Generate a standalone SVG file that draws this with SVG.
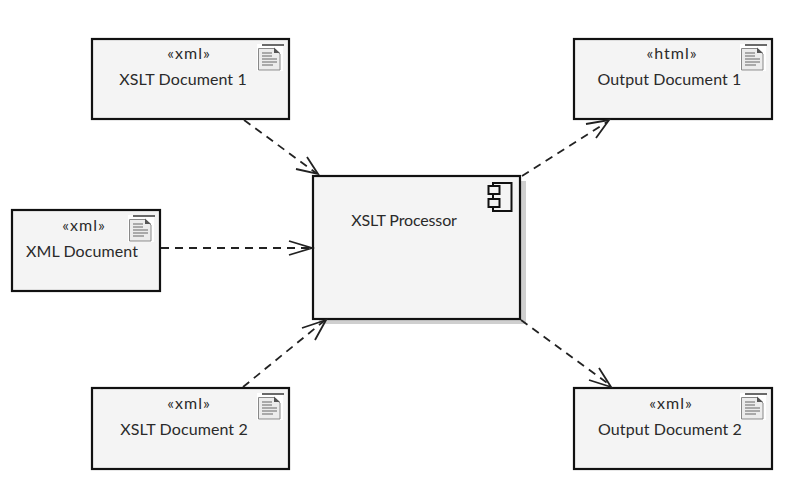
<svg xmlns="http://www.w3.org/2000/svg" width="800" height="481" viewBox="0 0 800 481">
<style>
text{font-family:Lato,"Liberation Sans",sans-serif;font-size:16px;fill:#2a2a2a;text-anchor:middle;letter-spacing:.1px}
text.st{letter-spacing:1px}
text.pr{letter-spacing:-.15px}
.box{fill:#f4f4f4;stroke:#111;stroke-width:2.200}
.dash{fill:none;stroke:#222;stroke-width:1.800;stroke-dasharray:8 6}
.head{fill:none;stroke:#222;stroke-width:1.800}
.ic{fill:#f4f4f4;stroke:#111;stroke-width:2}
.ln{fill:none;stroke:#666;stroke-width:1}
.pg{fill:#ececec;stroke:#888;stroke-width:1}
.top{stroke:#444;stroke-width:1.600}
</style>
<defs>
<g id="docicon">
<rect x="-1" y="0" width="26" height="27" fill="#fff"/>
<path class="pg" d="M.5 4.500H16L22 10V26H.5Z"/>
<path class="ln" d="M4 9H14M4 12H14M4 15H19M4 18H19M4 21H15"/>
<path d="M16 3.500V9H22Z" fill="#555"/>
<path class="top" d="M4 1H26"/>
</g>
</defs>
<g id="xslt-doc-1">
<rect class="box" x="92" y="39" width="197" height="80"/>
<use href="#docicon" x="258" y="44"/>
<text class="st" x="189" y="59">«xml»</text><text x="183" y="85">XSLT Document 1</text>
</g>
<g id="output-doc-1">
<rect class="box" x="574" y="39" width="198" height="80"/>
<use href="#docicon" x="741" y="44"/>
<text class="st" x="672" y="59">«html»</text><text x="669.500" y="85">Output Document 1</text>
</g>
<g id="xml-doc">
<rect class="box" x="12" y="210" width="148" height="81"/>
<use href="#docicon" x="129" y="215"/>
<text class="st" x="84" y="231">«xml»</text><text x="82" y="257">XML Document</text>
</g>
<g id="xslt-doc-2">
<rect class="box" x="92" y="388" width="197" height="81"/>
<use href="#docicon" x="258" y="393"/>
<text class="st" x="189" y="409">«xml»</text><text x="184" y="435">XSLT Document 2</text>
</g>
<g id="output-doc-2">
<rect class="box" x="574" y="388" width="198" height="81"/>
<use href="#docicon" x="741" y="393"/>
<text class="st" x="671" y="409">«xml»</text><text x="670" y="435">Output Document 2</text>
</g>
<g id="xslt-processor">
<rect x="319" y="181" width="207" height="143" fill="#cfcfcf"/>
<rect class="box" x="313" y="176" width="207" height="143"/>
<rect class="ic" x="493" y="183" width="18.500" height="28"/>
<rect class="ic" x="488.500" y="186" width="11" height="8"/>
<rect class="ic" x="488.500" y="199" width="11" height="8"/>
<text class="pr" x="404" y="226">XSLT Processor</text>
</g>
<g id="connectors">
<path class="dash" d="M244 120L316 173"/><path class="head" d="M307 157L318 174L296 169"/>
<path class="dash" d="M161 248H311"/><path class="head" d="M289 241L312 248L289 255"/>
<path class="dash" d="M243 387L324 321"/><path class="head" d="M302 328L326 320L315 340"/>
<path class="dash" d="M522 176L607 122"/><path class="head" d="M586 124L609 120L596 138"/>
<path class="dash" d="M521 320L610 385"/><path class="head" d="M599 368L611 387L589 380"/>
</g>
</svg>
